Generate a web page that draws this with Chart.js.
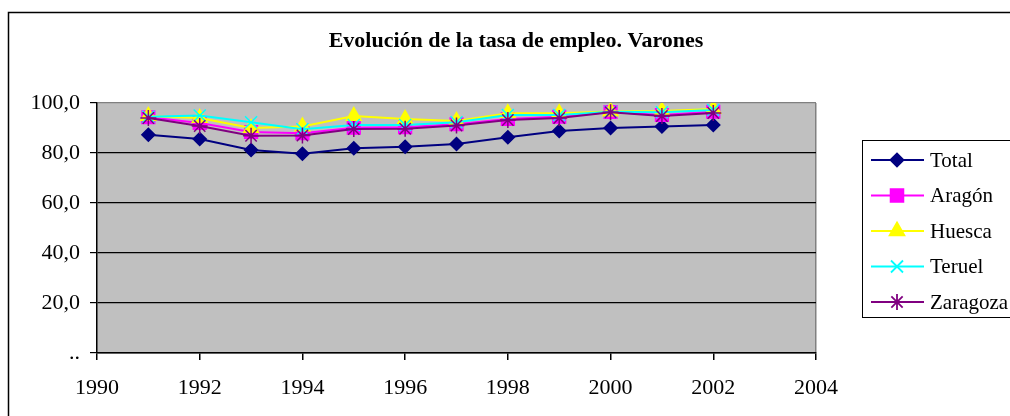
<!DOCTYPE html>
<html>
<head>
<meta charset="utf-8">
<script src="https://cdn.jsdelivr.net/npm/chart.js@4/dist/chart.umd.min.js"></script>
<style>
  html, body { margin: 0; padding: 0; background: #fff; }
  #wrap { width: 1010px; height: 416px; position: relative; }
</style>
</head>
<body>
<div id="wrap"><canvas id="empleoChart"></canvas></div>
<script>
// Tasa de empleo, varones (%)
const years = [1991, 1992, 1993, 1994, 1995, 1996, 1997, 1998, 1999, 2000, 2001, 2002];
const total    = [87.3, 85.6, 81.2, 79.7, 81.9, 82.5, 83.6, 86.3, 88.8, 90.0, 90.6, 91.2];
const aragon   = [94.3, 92.0, 88.4, 87.9, 90.1, 90.3, 91.5, 93.6, 94.5, 96.4, 95.2, 96.5];
const huesca   = [94.8, 94.0, 90.0, 90.6, 94.8, 93.6, 92.8, 95.9, 95.9, 96.6, 96.8, 97.6];
const teruel   = [94.5, 95.0, 92.3, 89.5, 91.2, 91.2, 92.3, 95.2, 95.2, 96.5, 96.3, 97.2];
const zaragoza = [94.0, 90.8, 86.9, 87.0, 89.6, 89.7, 91.0, 93.2, 94.0, 96.3, 94.8, 96.0];
const yTicks = [0, 20, 40, 60, 80, 100];
const xTicks = [1990, 1992, 1994, 1996, 1998, 2000, 2002, 2004];

const serif = "'Liberation Serif', 'Times New Roman', serif";

function pts(values) {
    return values.map(function (v, i) { return { x: years[i], y: v }; });
}

const series = [
    { label: 'Total',    data: total,    color: '#000080', style: 'rectRot',  radius: 6.5 },
    { label: 'Aragón',   data: aragon,   color: '#FF00FF', style: 'rect',     radius: 9 },
    { label: 'Huesca',   data: huesca,   color: '#FFFF00', style: 'triangle', radius: 8.5 },
    { label: 'Teruel',   data: teruel,   color: '#00FFFF', style: 'crossRot', radius: 8.5 },
    { label: 'Zaragoza', data: zaragoza, color: '#800080', style: 'star',     radius: 8 }
];

// plot background, outer frame, title and legend
const decor = {
    id: 'decor',
    beforeDraw: function (chart) {
        const c = chart.ctx, a = chart.chartArea;
        c.save();
        c.fillStyle = '#fff';
        c.fillRect(0, 0, chart.width, chart.height);
        c.fillStyle = '#C0C0C0';
        c.fillRect(a.left, a.top, a.right - a.left, a.bottom - a.top);
        c.restore();
    },
    afterDraw: function (chart) {
        const c = chart.ctx;
        c.save();
        c.strokeStyle = '#000';
        c.lineWidth = 1.5;
        c.strokeRect(8.5, 12.5, 1200, 600);

        c.fillStyle = '#000';
        c.font = 'bold 22px ' + serif;
        c.textAlign = 'center';
        c.textBaseline = 'middle';
        c.fillText('Evolución de la tasa de empleo. Varones', 516, 41);

        // legend
        c.lineWidth = 1;
        c.strokeStyle = '#000';
        c.fillStyle = '#fff';
        c.fillRect(862.5, 140.5, 200, 177);
        c.strokeRect(862.5, 140.5, 200, 177);
        c.font = '21px ' + serif;
        c.textAlign = 'left';
        series.forEach(function (s, i) {
            const y = 160 + i * 35.5;
            c.strokeStyle = s.color;
            c.lineWidth = 1.8;
            c.beginPath();
            c.moveTo(871, y);
            c.lineTo(924, y);
            c.stroke();
            c.fillStyle = s.color;
            Chart.helpers.drawPoint(c, { pointStyle: s.style, radius: s.radius, borderWidth: 1.5 }, 897, y);
            c.fillStyle = '#000';
            c.fillText(s.label, 930, y + 1);
        });
        c.restore();
    }
};

const ctx = document.getElementById('empleoChart').getContext('2d');
new Chart(ctx, {
    type: 'line',
    data: {
        datasets: series.map(function (s, i) {
            return {
                label: s.label,
                data: pts(s.data),
                borderColor: s.color,
                backgroundColor: s.color,
                borderWidth: 1.8,
                pointStyle: s.style,
                pointRadius: s.radius,
                pointBorderWidth: 1.5,
                pointBorderColor: s.color,
                pointBackgroundColor: s.color,
                tension: 0,
                order: 5 - i
            };
        })
    },
    options: {
        responsive: true,
        maintainAspectRatio: false,
        animation: false,
        layout: { padding: { left: 8, top: 103, right: 194, bottom: 0 } },
        plugins: {
            legend: { display: false },
            title: { display: false },
            tooltip: { enabled: false }
        },
        scales: {
            x: {
                type: 'linear',
                min: 1990,
                max: 2004,
                afterFit: function (scale) { scale.height = 63; },
                afterBuildTicks: function (scale) {
                    scale.ticks = xTicks.map(function (v) { return { value: v }; });
                },
                ticks: {
                    color: '#000',
                    font: { family: serif, size: 22 },
                    padding: 15,
                    maxRotation: 0,
                    callback: function (v) { return String(v); }
                },
                grid: {
                    color: function (c) { return c.tick && c.tick.value === 2004 ? '#808080' : 'rgba(0,0,0,0)'; },
                    tickColor: '#000',
                    tickLength: 7,
                    lineWidth: 1.5
                },
                border: { color: '#000', width: 1.5 }
            },
            y: {
                min: 0,
                max: 100,
                afterFit: function (scale) { scale.width = 89; },
                afterBuildTicks: function (scale) {
                    scale.ticks = yTicks.map(function (v) { return { value: v }; });
                },
                ticks: {
                    color: '#000',
                    font: { family: serif, size: 22 },
                    padding: 10,
                    callback: function (v) { return v === 0 ? '..' : v.toFixed(1).replace('.', ','); }
                },
                grid: {
                    color: function (c) {
                        if (!c.tick) return '#000';
                        if (c.tick.value === 100) return '#808080';
                        return '#000';
                    },
                    tickColor: '#000',
                    tickLength: 7,
                    lineWidth: 1.2
                },
                border: { color: '#000', width: 1.5 }
            }
        }
    },
    plugins: [decor]
});
</script>
</body>
</html>
